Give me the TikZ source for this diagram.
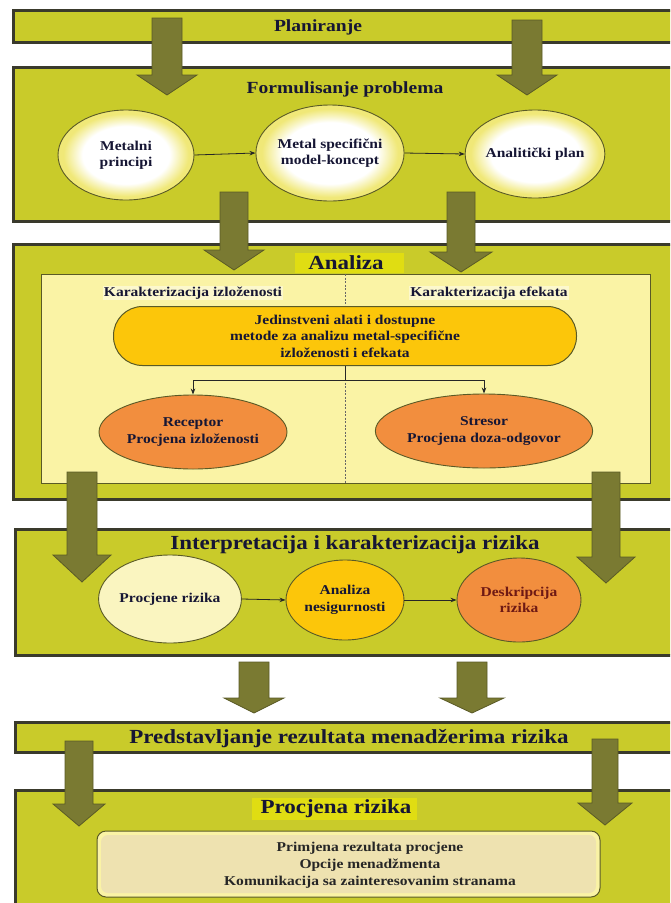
\documentclass[tikz,border=0pt]{standalone}
\usepackage{fontspec}
\setmainfont[FakeStretch=1.15]{Liberation Serif}
\usetikzlibrary{shapes.geometric,arrows.meta}
\definecolor{olivebox}{RGB}{201,203,42}
\definecolor{boxedge}{RGB}{58,58,44}
\definecolor{arrfill}{RGB}{122,122,50}
\definecolor{arredge}{RGB}{90,90,38}
\definecolor{paleyel}{RGB}{250,243,165}
\definecolor{gold}{RGB}{252,198,10}
\definecolor{orangeel}{RGB}{242,142,62}
\definecolor{creamel}{RGB}{250,245,192}
\definecolor{ellyel}{RGB}{240,232,120}
\definecolor{navytext}{RGB}{22,22,52}
\definecolor{redtext}{RGB}{110,25,20}
\definecolor{hilite}{RGB}{224,221,18}
\definecolor{beige}{RGB}{238,226,176}
\definecolor{lblbg}{RGB}{252,248,205}
\pgfdeclareradialshading{whiteedge}{\pgfpoint{0bp}{0bp}}{%
  color(0bp)=(white); color(16bp)=(white); color(23bp)=(ellyel); color(25bp)=(ellyel); color(50bp)=(ellyel)}
\newcommand\blkarrow[6]{%
  \filldraw[fill=arrfill, draw=arredge, line width=0.8pt, line join=miter]
  ({#1-#5},#2) -- ({#1+#5},#2) -- ({#1+#5},#3) -- ({#1+#6},#3) -- (#1,#4) -- ({#1-#6},#3) -- ({#1-#5},#3) -- cycle;}
\begin{document}
\begin{tikzpicture}[x=1pt,y=-1pt,
  mainbox/.style={fill=olivebox, draw=boxedge, line width=3pt},
  bigtitle/.style={font=\bfseries\fontsize{20}{22}\selectfont, text=navytext, inner sep=0pt},
  midtitle/.style={font=\bfseries\fontsize{17}{19}\selectfont, text=navytext, inner sep=0pt},
  lbl/.style={font=\bfseries\fontsize{13.5}{16.5}\selectfont, text=navytext, align=center},
  oval/.style={ellipse, draw=arredge, line width=0.9pt, inner sep=0pt, text=navytext,
    font=\bfseries\fontsize{13.5}{16.5}\selectfont, align=center},
  whiteoval/.style={oval, shading=whiteedge},
  link/.style={-{Stealth[length=6pt,width=4.5pt]}, line width=0.8pt, draw=black!85}]
\useasboundingbox (0,0) rectangle (670,903);
\clip (0,0) rectangle (670,903);
\fill[white] (0,0) rectangle (670,903);

% Planiranje
\draw[mainbox] (13,10) rectangle (690,42);
\node[midtitle] (plan) at (318,27) {Planiranje};

% Formulisanje problema
\draw[mainbox] (13,67) rectangle (690,221);
\node[midtitle] (form) at (345,89) {Formulisanje problema};
\node[whiteoval, minimum width=136pt, minimum height=90pt] (mp) at (126,155) {Metalni\\principi};
\node[whiteoval, minimum width=144pt, minimum height=96pt] (ms) at (330,153) {Metal specifični\\model-koncept};
\node[whiteoval, minimum width=126pt, minimum height=88pt] (ap) at (535,154) {Analitički plan};
\draw[link] (mp.east) -- (ms.west);
\draw[link] (ms.east) -- (ap.west);

% Analiza
\draw[mainbox] (13,244) rectangle (690,499);
\fill[hilite] (295,253) rectangle (404,273);
\node[bigtitle] (anal) at (346,263) {Analiza};
\draw[fill=paleyel, draw=arredge, line width=1pt] (41,274) rectangle (650,483);
\draw[dash pattern=on 2pt off 1.5pt, draw=black!60, line width=0.7pt] (345,274) -- (345,483);
\node[lbl, fill=lblbg, inner sep=1pt] (kiz) at (193,293) {Karakterizacija izloženosti};
\node[lbl, fill=lblbg, inner sep=1pt] (kef) at (489,293) {Karakterizacija efekata};
\node[lbl, fill=gold, draw=arredge, line width=1pt, rounded corners=29pt,
  minimum width=463pt, minimum height=59pt, inner sep=0pt] (pill) at (345,336)
  {Jedinstveni alati i dostupne\\metode za analizu metal-specifične\\izloženosti i efekata};
\node[oval, fill=orangeel, minimum width=188pt, minimum height=74pt] (rec) at (193,432) {Receptor\\Procjena izloženosti};
\node[oval, fill=orangeel, minimum width=192pt, minimum height=74pt] (str) at (484,431) {Stresor\\Procjena doza-odgovor};
\coordinate (br) at (345,380);
\draw[line width=0.8pt, draw=black!85] (pill.south) -- (br);
\draw[link] (br) -| (rec.north);
\draw[link] (br) -| (str.north);

% Interpretacija
\draw[mainbox] (15,529) rectangle (690,655);
\node[bigtitle] (interp) at (355,545) {Interpretacija i karakterizacija rizika};
\node[oval, fill=creamel, minimum width=122pt, minimum height=88pt] (pr) at (170,599) {Procjene rizika};
\node[oval, fill=gold, minimum width=118pt, minimum height=80pt] (an) at (345,600) {Analiza\\nesigurnosti};
\node[oval, fill=orangeel, minimum width=124pt, minimum height=84pt, text=redtext] (dr) at (519,600) {Deskripcija\\rizika};
\draw[link] (pr.east) -- (an.west);
\draw[link] (an.east) -- (dr.west);

% Predstavljanje
\draw[mainbox] (15,722) rectangle (690,752);
\node[bigtitle] (pred) at (349,739) {Predstavljanje rezultata menadžerima rizika};

% Procjena rizika
\draw[mainbox] (15,790) rectangle (690,930);
\fill[hilite] (252,798) rectangle (417,820);
\node[bigtitle] (procj) at (336,809) {Procjena rizika};
\draw[rounded corners=9pt, fill=paleyel, draw=arredge, line width=1pt] (97,831) rectangle (600,897);
\fill[rounded corners=7pt, beige] (101,835) rectangle (596,893);
\node[lbl, font=\bfseries\fontsize{13.5}{17}\selectfont, text=black!85] (ptext) at (370,865)
  {Primjena rezultata procjene\\Opcije menadžmenta\\Komunikacija sa zainteresovanim stranama};

% block arrows
\blkarrow{167}{18}{75}{95}{15}{30}
\blkarrow{527}{20}{75}{95}{15}{30}
\blkarrow{234}{192}{250}{270}{14}{30}
\blkarrow{461}{192}{252}{272}{14}{31}
\blkarrow{82}{472}{555}{582}{15}{29}
\blkarrow{606}{472}{557}{583}{14}{29}
\blkarrow{254}{662}{698}{713}{15}{30}
\blkarrow{472}{662}{698}{713}{15}{32}
\blkarrow{79}{741}{804}{826}{14}{26}
\blkarrow{605}{739}{803}{825}{13}{27}
\end{tikzpicture}
\end{document}
